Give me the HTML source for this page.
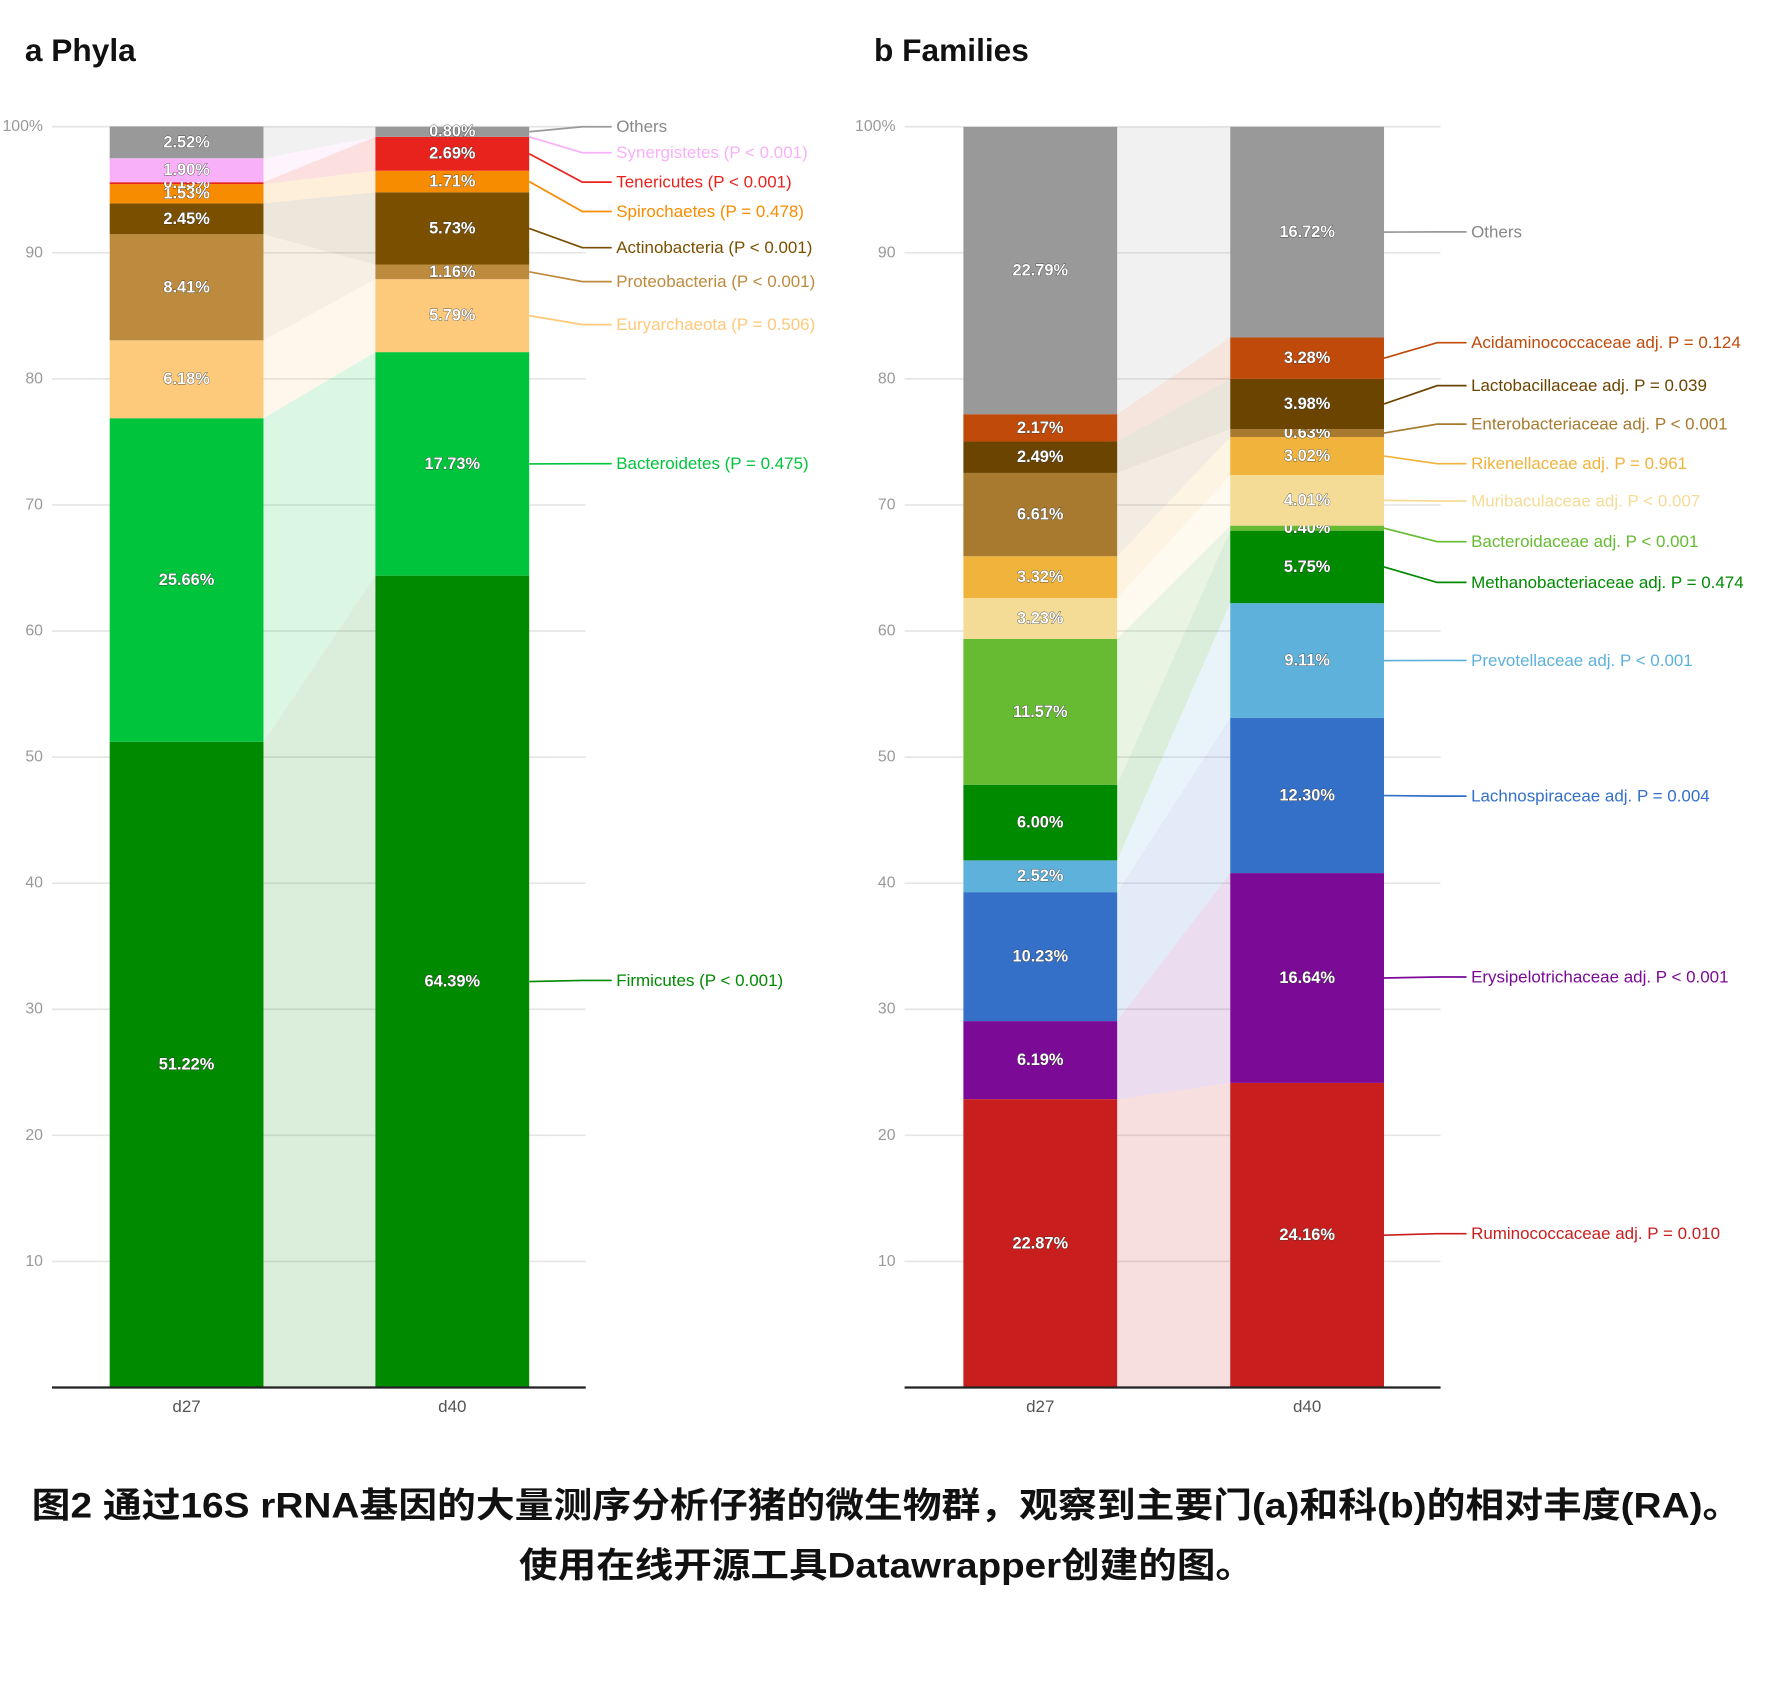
<!DOCTYPE html>
<html><head><meta charset="utf-8"><style>
html,body{margin:0;padding:0;background:#fff;}
svg{display:block;}
text{font-family:"Liberation Sans","Noto Sans CJK SC",sans-serif;}
.val{font-size:14.5px;font-weight:bold;text-anchor:middle;dominant-baseline:central;}
.tick{font-size:14px;fill:#999;text-anchor:end;dominant-baseline:central;}
.lab{font-size:15px;dominant-baseline:central;}
</style></head><body>
<svg id="chart" width="1773" height="1694" viewBox="0 0 1568 1498" xmlns="http://www.w3.org/2000/svg">
<text x="22" y="54" font-size="28" font-weight="bold" fill="#111">a Phyla</text>
<text x="773" y="54" font-size="28" font-weight="bold" fill="#111">b Families</text>
<g id="pa"></g>
<g id="pb"></g>
<text x="784" y="1342" font-size="31" font-weight="bold" fill="#111" text-anchor="middle" textLength="1512" lengthAdjust="spacingAndGlyphs">图2 通过16S rRNA基因的大量测序分析仔猪的微生物群，观察到主要门(a)和科(b)的相对丰度(RA)。</text>
<text x="784" y="1395" font-size="31" font-weight="bold" fill="#111" text-anchor="middle" textLength="650" lengthAdjust="spacingAndGlyphs">使用在线开源工具Datawrapper创建的图。</text>
</svg>
<script>
const categories = ["d27","d40"];
const yTicks = [0,10,20,30,40,50,60,70,80,90,100];
const phylaNames = ["Firmicutes","Bacteroidetes","Euryarchaeota","Proteobacteria","Actinobacteria","Spirochaetes","Tenericutes","Synergistetes","Others"];
const phylaD27 = [51.22,25.66,6.18,8.41,2.45,1.53,0.15,1.90,2.52];
const phylaD40 = [64.39,17.73,5.79,1.16,5.73,1.71,2.69,0,0.80];
const phylaLabels = ["Firmicutes (P < 0.001)","Bacteroidetes (P = 0.475)","Euryarchaeota (P = 0.506)","Proteobacteria (P < 0.001)","Actinobacteria (P < 0.001)","Spirochaetes (P = 0.478)","Tenericutes (P < 0.001)","Synergistetes (P < 0.001)","Others"];
const phylaColors = ["#008a00","#00c43c","#fdc97a","#bd8b3e","#7a5000","#f78c00","#e8231e","#f8b0f8","#999999"];
const phylaLabelY = [867,410,287,249,219,187,161,135,112];
const famNames = ["Ruminococcaceae","Erysipelotrichaceae","Lachnospiraceae","Prevotellaceae","Methanobacteriaceae","Bacteroidaceae","Muribaculaceae","Rikenellaceae","Enterobacteriaceae","Lactobacillaceae","Acidaminococcaceae","Others"];
const famD27 = [22.87,6.19,10.23,2.52,6.00,11.57,3.23,3.32,6.61,2.49,2.17,22.79];
const famD40 = [24.16,16.64,12.30,9.11,5.75,0.40,4.01,3.02,0.63,3.98,3.28,16.72];
const famLabels = ["Ruminococcaceae adj. P = 0.010","Erysipelotrichaceae adj. P < 0.001","Lachnospiraceae adj. P = 0.004","Prevotellaceae adj. P < 0.001","Methanobacteriaceae adj. P = 0.474","Bacteroidaceae adj. P < 0.001","Muribaculaceae adj. P < 0.007","Rikenellaceae adj. P = 0.961","Enterobacteriaceae adj. P < 0.001","Lactobacillaceae adj. P = 0.039","Acidaminococcaceae adj. P = 0.124","Others"];
const famColors = ["#c81e1e","#7b0a96","#3470c8","#5eb1db","#008a00","#66bb33","#f5dc96","#f0b43c","#a87a30","#6b4400","#bf4a0a","#999999"];
const famLabelY = [1091,864,704,584,515,479,443,410,375,341,303,205];
const NS="http://www.w3.org/2000/svg";
function mk(tag,attrs,parent){const e=document.createElementNS(NS,tag);for(const k in attrs)e.setAttribute(k,attrs[k]);parent.appendChild(e);return e;}
function draw(g,cfg){
  const y=v=>1227-v*11.15;
  yTicks.forEach(t=>{
    const l=mk('line',{x1:cfg.gx0,x2:cfg.gx1,y1:y(t),y2:y(t),stroke:'#e6e6e6','stroke-width':1.5},g);
    
    
    const tx=mk('text',{x:cfg.gx0-8,y:y(t),class:'tick'},g);
    
    
    tx.textContent=t===100?'100%':(t===0?'':t);
  });
  const xs=[cfg.b0,cfg.b1], w=136;
  let c0=0,c1=0;
  for(let i=0;i<cfg.a.length;i++){
    const a=cfg.a[i],b=cfg.b[i];
    const p=mk('polygon',{points:`${xs[0]+w},${y(c0)} ${xs[1]},${y(c1)} ${xs[1]},${y(c1+b)} ${xs[0]+w},${y(c0+a)}`,fill:cfg.colors[i],'fill-opacity':0.14},g);
    
    
    [[a,c0,0],[b,c1,1]].forEach(([v,c,k])=>{
      if(v<=0)return;
      const r=mk('rect',{x:xs[k],y:y(c+v),width:w,height:y(c)-y(c+v),fill:cfg.colors[i]},g);
      
      
      const t=mk('text',{x:xs[k]+w/2,y:y(c+v/2),class:'val',fill:'#fff',stroke:'#333','stroke-width':0.6,'paint-order':'stroke'},g);
      
      
      t.textContent=v.toFixed(2)+'%';
    });
    const mid=y(c1+b/2), ly=cfg.ly[i];
    const ln=mk('polyline',{points:`${xs[1]+w},${mid} ${cfg.lx-30},${ly} ${cfg.lx-4},${ly}`,fill:'none',stroke:cfg.colors[i],'stroke-width':1.5},g);
    
    
    const lt=mk('text',{x:cfg.lx,y:ly,class:'lab',fill:cfg.colors[i]==='#999999'?'#888':cfg.colors[i]},g);
    
    
    lt.textContent=cfg.labels[i];
    c0+=a;c1+=b;
  }
  const ax=mk('line',{x1:cfg.gx0,x2:cfg.gx1,y1:1227,y2:1227,stroke:'#222','stroke-width':2},g);
  
  
  categories.forEach((cname,k)=>{
    const t=mk('text',{x:xs[k]+w/2,y:1244,'font-size':15,fill:'#555','text-anchor':'middle','dominant-baseline':'central'},g);
    
    
    t.textContent=cname;
  });
}
draw(document.getElementById('pa'),{gx0:46,gx1:518,b0:97,b1:332,a:phylaD27,b:phylaD40,names:phylaNames,labels:phylaLabels,colors:phylaColors,ly:phylaLabelY,lx:545});
draw(document.getElementById('pb'),{gx0:800,gx1:1274,b0:852,b1:1088,a:famD27,b:famD40,names:famNames,labels:famLabels,colors:famColors,ly:famLabelY,lx:1301});
</script>
</body></html>
